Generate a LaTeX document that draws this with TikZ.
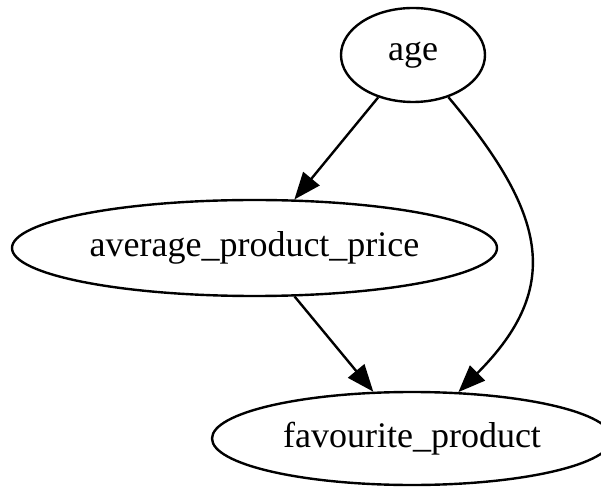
\documentclass[tikz,border=0pt]{standalone}
\usepackage{fontspec}
\setmainfont{Liberation Serif}
\usepackage{tikz}
\usetikzlibrary{arrows.meta,shapes.geometric}
\tikzset{var/.style={ellipse, draw, inner sep=0pt,
  font=\fontsize{36}{40}\selectfont}}

\begin{document}
\begin{tikzpicture}[x=1pt, y=1pt, line width=2.4pt,
  >={Triangle[length=27pt, width=21pt]}]
  \useasboundingbox (0, 0) rectangle (601, 487);
  \node[var, minimum width=144pt, minimum height=94pt] (age) at (413, 432) {age};
  \node[var, minimum width=485pt, minimum height=96pt] (price) at (254.5, 239) {average\_product\_price};
  \node[var, minimum width=400pt, minimum height=93pt] (fav) at (412, 48.5) {favourite\_product};
  \draw[->] (age) -- (price);
  \draw[->] (price) -- (fav);
  \draw[->] (age) to[out=-50, in=45, looseness=1.3] (fav);
\end{tikzpicture}
\end{document}
